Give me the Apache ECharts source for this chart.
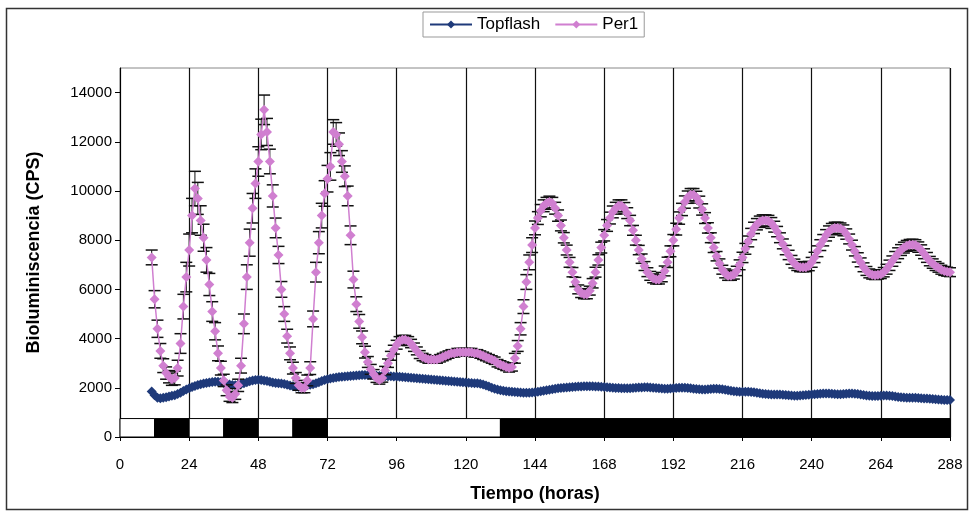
<!DOCTYPE html>
<html>
<head>
<meta charset="utf-8">
<script src="https://cdn.jsdelivr.net/npm/echarts@6/dist/echarts.min.js"></script>
<style>
html,body{margin:0;padding:0;background:#fff;}
#chart{width:970px;height:515px;}
</style>
</head>
<body>
<div id="chart"></div>
<script>
// ---- data ----
const startHour = 11; // first sample (h), one sample per hour
const xTicks = [0,24,48,72,96,120,144,168,192,216,240,264,288];
const yTicks = [0,2000,4000,6000,8000,10000,12000,14000];

const topflash = [
 1850,1700,1600,1580,1600,1620,1650,1680,1700,1750,
 1800,1870,1930,1980,2030,2070,2110,2140,2170,2200,
 2220,2240,2250,2250,2230,2200,2160,2130,2110,2100,
 2120,2150,2190,2230,2270,2300,2320,2330,2320,2300,
 2280,2250,2220,2200,2190,2170,2150,2120,2090,2060,
 2040,2030,2050,2080,2100,2120,2140,2180,2230,2280,
 2320,2350,2380,2400,2420,2440,2450,2460,2470,2480,
 2490,2500,2510,2520,2520,2520,2510,2500,2490,2480,
 2480,2470,2470,2470,2460,2460,2450,2440,2430,2420,
 2410,2400,2390,2380,2370,2360,2350,2340,2330,2320,
 2310,2300,2290,2280,2270,2260,2250,2240,2230,2220,
 2210,2200,2190,2180,2160,2130,2090,2050,2000,1960,
 1930,1900,1880,1860,1850,1840,1830,1820,1810,1800,
 1800,1800,1810,1820,1840,1860,1880,1900,1920,1940,
 1960,1980,1990,2000,2010,2020,2030,2040,2050,2050,
 2060,2060,2060,2060,2050,2050,2040,2030,2020,2010,
 2000,1990,1990,1980,1980,1980,1980,1990,2000,2010,
 2010,2020,2020,2010,2000,1990,1980,1970,1960,1960,
 1970,1980,1990,2000,2000,2000,1990,1980,1960,1950,
 1940,1930,1930,1940,1950,1960,1960,1950,1940,1920,
 1900,1880,1860,1850,1840,1840,1840,1840,1830,1820,
 1800,1780,1760,1750,1740,1730,1730,1730,1730,1720,
 1710,1700,1690,1680,1680,1690,1700,1710,1720,1730,
 1740,1750,1760,1770,1770,1770,1760,1750,1740,1740,
 1750,1760,1770,1770,1760,1750,1730,1710,1690,1680,
 1670,1670,1670,1680,1690,1690,1680,1670,1650,1630,
 1620,1610,1600,1600,1600,1600,1590,1580,1570,1560,
 1550,1540,1530,1520,1510,1500,1500,1500
];

const per1 = [
 7300,5600,4400,3500,2900,2600,2450,2350,2400,2800,
 3800,5300,6500,7600,9000,10100,9700,8800,8100,7200,
 6200,5100,4300,3400,2800,2300,1900,1650,1600,1750,
 2100,2900,4600,6500,7900,9300,10300,11200,12300,13300,
 12400,11200,9800,8500,7400,6000,5000,4100,3400,2800,
 2400,2100,2000,2000,2300,2800,4800,6700,7900,9000,
 9900,10500,11000,12400,12300,11900,11200,10600,9800,8200,
 6400,5400,4700,4050,3450,3050,2750,2550,2400,2320,
 2400,2700,3000,3300,3550,3750,3900,3950,3950,3900,
 3800,3650,3500,3350,3250,3200,3150,3150,3150,3150,
 3200,3250,3300,3350,3400,3400,3450,3450,3450,3450,
 3450,3450,3400,3400,3350,3300,3250,3200,3150,3100,
 3000,2950,2900,2850,2800,2850,3200,3700,4400,5300,
 6300,7100,7800,8500,8900,9200,9400,9500,9550,9500,
 9300,9000,8600,8100,7600,7100,6700,6300,6000,5850,
 5800,5800,5950,6250,6700,7200,7700,8200,8600,8900,
 9150,9300,9400,9400,9300,9100,8800,8400,8000,7600,
 7250,6950,6700,6550,6450,6400,6400,6500,6750,7100,
 7550,8000,8450,8900,9250,9550,9750,9850,9850,9750,
 9550,9250,8900,8500,8100,7700,7350,7050,6800,6650,
 6550,6550,6600,6750,7000,7300,7650,7950,8250,8500,
 8650,8750,8800,8800,8780,8700,8550,8350,8100,7850,
 7600,7400,7200,7050,6950,6900,6900,6900,6950,7100,
 7300,7550,7800,8000,8200,8350,8450,8500,8500,8480,
 8400,8250,8050,7800,7550,7300,7100,6900,6750,6650,
 6600,6580,6600,6620,6700,6820,6980,7150,7320,7470,
 7600,7700,7770,7810,7820,7800,7720,7600,7450,7300,
 7150,7050,6950,6880,6800,6750,6720,6700
];

const per1Err = [
 300,350,350,300,280,250,250,250,280,320,
 400,500,600,650,700,700,650,600,550,500,
 450,400,350,300,280,250,220,200,200,220,
 250,300,400,500,550,600,600,600,620,600,
 550,500,450,400,350,320,300,280,260,240,
 220,200,200,200,220,260,320,400,450,500,
 520,540,560,500,480,460,440,420,400,380,
 340,300,280,260,240,220,200,190,180,170,
 170,170,170,180,180,180,180,180,180,180,
 170,170,160,160,150,150,150,150,150,150,
 150,150,150,150,150,150,150,150,150,150,
 150,150,150,150,150,150,150,150,150,150,
 150,150,150,150,160,170,200,220,250,280,
 300,300,300,280,260,250,240,240,240,240,
 240,230,220,210,200,200,190,190,180,180,
 180,180,180,190,200,210,220,230,240,240,
 240,240,240,240,230,220,210,200,200,190,
 190,180,180,180,180,180,180,190,200,210,
 220,230,240,250,250,250,250,250,250,240,
 240,230,220,210,200,200,190,190,180,180,
 180,180,180,190,200,210,220,220,230,230,
 230,230,230,230,230,220,220,210,200,200,
 190,190,180,180,180,180,180,180,190,200,
 210,220,220,230,230,230,230,230,230,220,
 220,210,200,200,190,190,180,180,180,180,
 180,180,180,180,190,200,210,210,220,220,
 220,220,220,220,220,220,210,210,200,200,
 190,190,180,180,180,180,180,180
];

// light/dark schedule: [start h, end h, dark?]
const lightDark = [[0,12,0],[12,24,1],[24,36,0],[36,48,1],[48,60,0],[60,72,1],[72,132,0],[132,288,1]];
const lightDarkTop = 750;

// ---- build ----
const FONT = "'Liberation Sans', Arial, sans-serif";
const topData = topflash.map((v,i)=>[startHour+i, v]);
const perData = per1.map((v,i)=>[startHour+i, v]);
const errData = per1.map((v,i)=>[startHour+i, v-per1Err[i], v+per1Err[i]]);
const ldData = lightDark.map(d=>[d[0], d[1], d[2], lightDarkTop]);

const chart = echarts.init(document.getElementById('chart'), null, {renderer:'canvas'});
chart.setOption({
  animation:false,
  backgroundColor:'#fff',
  textStyle:{fontFamily:FONT},
  graphic:[{type:'rect', silent:true, z:-1, shape:{x:6.5,y:8.5,width:961,height:501}, style:{fill:null, stroke:'#333', lineWidth:1.5}}],
  legend:{
    left:423, top:12, padding:[4,6], itemGap:14, itemWidth:42, itemHeight:10,
    borderColor:'#999', borderWidth:1,
    textStyle:{fontSize:17, color:'#000', fontFamily:FONT},
    data:['Topflash','Per1']
  },
  grid:{left:120, right:20, top:68, bottom:78, show:true, borderColor:'#888', borderWidth:1},
  xAxis:{
    type:'value', min:0, max:288, interval:24,
    name:'Tiempo (horas)', nameLocation:'middle', nameGap:48,
    nameTextStyle:{fontSize:18, fontWeight:'bold', color:'#000', fontFamily:FONT},
    axisLine:{lineStyle:{color:'#000', width:1}},
    axisTick:{show:true, length:4, lineStyle:{color:'#000'}},
    axisLabel:{fontSize:15, color:'#000', margin:20, fontFamily:FONT, customValues:xTicks},
    splitLine:{show:true, lineStyle:{color:'#111', width:1.2}}
  },
  yAxis:{
    type:'value', min:0, max:15000, interval:2000,
    name:'Bioluminiscencia (CPS)', nameLocation:'middle', nameGap:77,
    nameTextStyle:{fontSize:18, fontWeight:'bold', color:'#000', fontFamily:FONT},
    axisLine:{show:true, lineStyle:{color:'#000', width:1}},
    axisTick:{show:true, length:5, lineStyle:{color:'#000'}, customValues:yTicks},
    axisLabel:{fontSize:15, color:'#000', margin:8, fontFamily:FONT, customValues:yTicks,
      formatter:function(v){return String(v);}},
    splitLine:{show:false}
  },
  series:[
    {
      type:'custom', name:'lightdark', silent:true, z:3,
      renderItem:function(params, api){
        const p0 = api.coord([api.value(0), 0]);
        const p1 = api.coord([api.value(1), api.value(3)]);
        return {type:'rect', shape:{x:p0[0], y:p1[1], width:p1[0]-p0[0], height:p0[1]-p1[1]},
          style:{fill: api.value(2) ? '#000' : '#fff', stroke:'#000', lineWidth:1}};
      },
      encode:{x:[0,1], y:3},
      data:ldData
    },
    {
      name:'Topflash', type:'line', data:topData, z:4,
      symbol:'diamond', symbolSize:10, showAllSymbol:true,
      lineStyle:{color:'#1f3a7a', width:1.5},
      itemStyle:{color:'#1f3a7a'}
    },
    {
      type:'custom', name:'err', silent:true, z:5,
      renderItem:function(params, api){
        const x = api.value(0);
        const pl = api.coord([x, api.value(1)]);
        const ph = api.coord([x, api.value(2)]);
        const hw = 6;
        const st = {stroke:'#111', lineWidth:1.5};
        return {type:'group', children:[
          {type:'line', shape:{x1:pl[0], y1:pl[1], x2:ph[0], y2:ph[1]}, style:{stroke:'#111', lineWidth:1}},
          {type:'line', shape:{x1:pl[0]-hw, y1:pl[1], x2:pl[0]+hw, y2:pl[1]}, style:st},
          {type:'line', shape:{x1:ph[0]-hw, y1:ph[1], x2:ph[0]+hw, y2:ph[1]}, style:st}
        ]};
      },
      encode:{x:0, y:[1,2]},
      data:errData
    },
    {
      name:'Per1', type:'line', data:perData, z:6,
      symbol:'diamond', symbolSize:10, showAllSymbol:true,
      lineStyle:{color:'#d07fd0', width:1.5},
      itemStyle:{color:'#d07fd0'}
    }
  ]
});
</script>
</body>
</html>
